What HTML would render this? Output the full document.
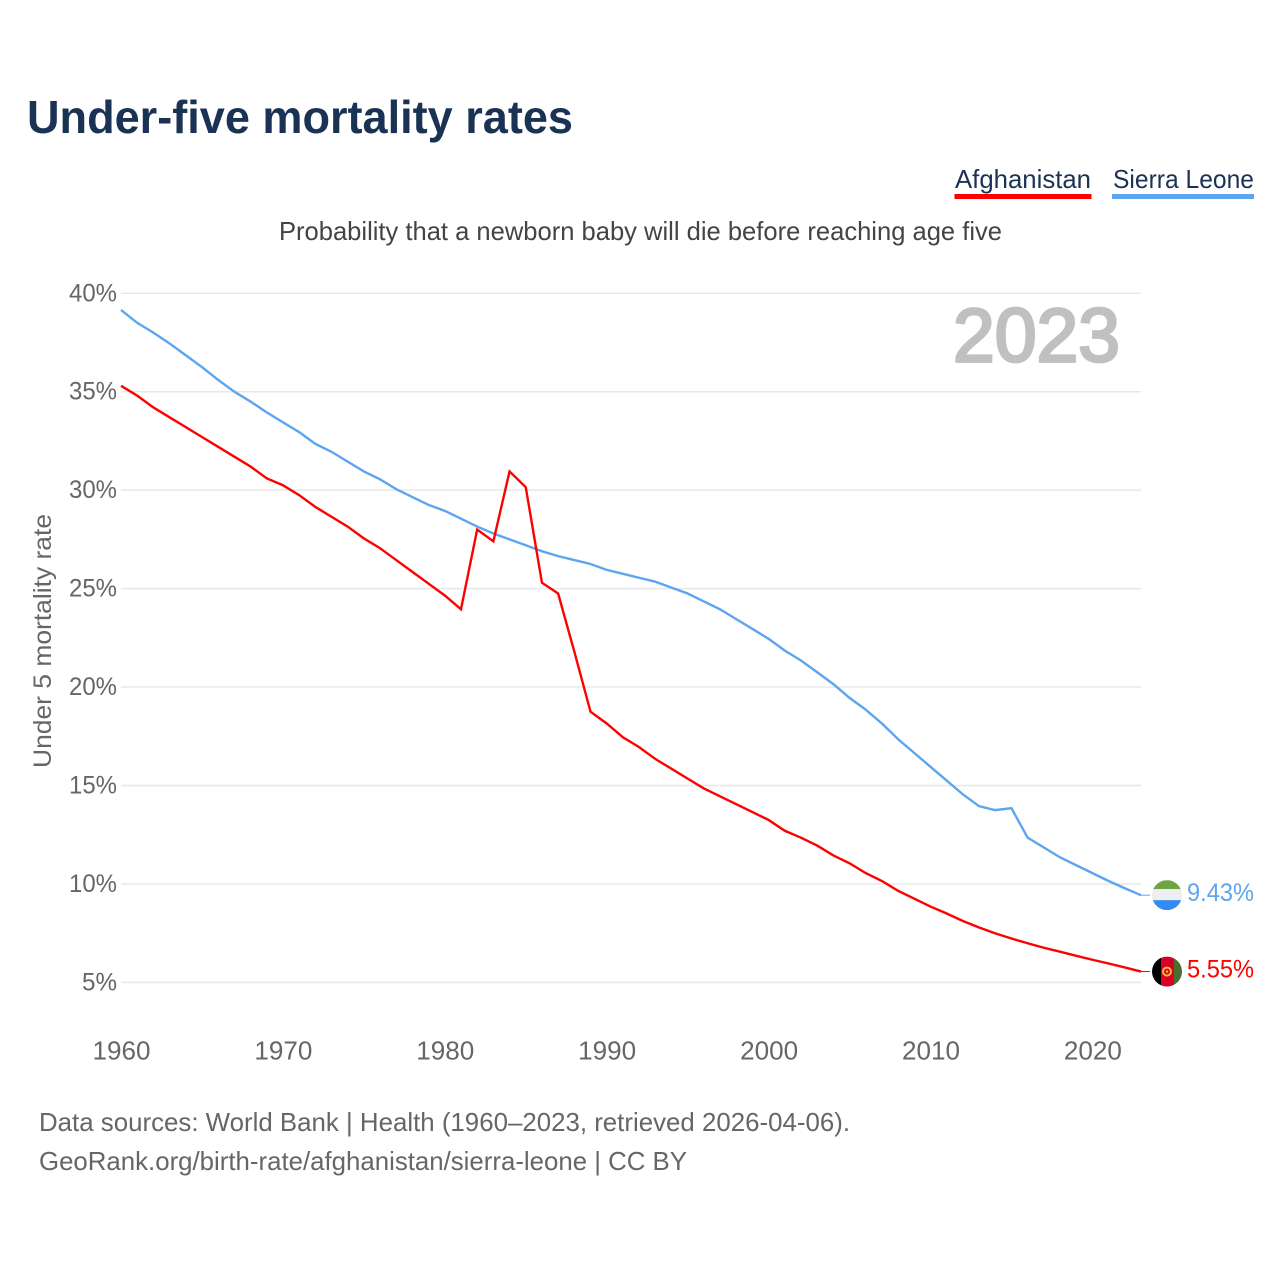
<!DOCTYPE html>
<html lang="en">
<head>
<meta charset="utf-8">
<title>Under-five mortality rates</title>
<style>
html,body{margin:0;padding:0;background:#fff;}
svg{display:block;font-family:"Liberation Sans",sans-serif;}
</style>
</head>
<body>
<svg id="chart" xmlns="http://www.w3.org/2000/svg" width="1280" height="1280" viewBox="0 0 1280 1280">
  <rect x="0" y="0" width="1280" height="1280" fill="#ffffff"/>
  <text x="27" y="133" font-size="46" font-weight="700" fill="#1a3354" textLength="546" lengthAdjust="spacingAndGlyphs">Under-five mortality rates</text>
  <g>
    <text x="955" y="188" font-size="26" fill="#1a3354" textLength="136" lengthAdjust="spacingAndGlyphs">Afghanistan</text>
    <rect x="954.500" y="194" width="137" height="5" fill="#ff0000"/>
  </g>
  <g>
    <text x="1113" y="188" font-size="26" fill="#1a3354" textLength="141" lengthAdjust="spacingAndGlyphs">Sierra Leone</text>
    <rect x="1112" y="194" width="142" height="5" fill="#5da5ef"/>
  </g>
  <text x="279" y="240" font-size="26" fill="#444444" textLength="723" lengthAdjust="spacingAndGlyphs">Probability that a newborn baby will die before reaching age five</text>
  <g id="grid"></g>
  <text x="1120" y="361.500" font-size="76" font-weight="400" fill="#c0c0c0" stroke="#c0c0c0" stroke-width="2.8" text-anchor="end" textLength="167" lengthAdjust="spacingAndGlyphs">2023</text>
  <g id="yticks"></g>
  <g id="xticks"></g>
  <text transform="translate(51,641) rotate(-90)" font-size="25" fill="#666666" text-anchor="middle" textLength="254" lengthAdjust="spacingAndGlyphs">Under 5 mortality rate</text>
  <g id="series"></g>
  <g id="ends"></g>
  <text x="39" y="1131" font-size="26" fill="#666666" textLength="811" lengthAdjust="spacingAndGlyphs">Data sources: World Bank | Health (1960–2023, retrieved 2026-04-06).</text>
  <text x="39" y="1170" font-size="26" fill="#666666" textLength="648" lengthAdjust="spacingAndGlyphs">GeoRank.org/birth-rate/afghanistan/sierra-leone | CC BY</text>
</svg>
<script>
const startYear = 1960;
const yTicks = [5, 10, 15, 20, 25, 30, 35, 40];
const xTicks = [1960, 1970, 1980, 1990, 2000, 2010, 2020];
const afghanistan = [35.3,34.8,34.2,33.7,33.2,32.7,32.2,31.7,31.2,30.6,30.25,29.75,29.15,28.65,28.15,27.55,27.05,26.45,25.85,25.25,24.65,23.95,28.0,27.4,30.95,30.15,25.3,24.75,21.8,18.75,18.15,17.45,16.95,16.35,15.85,15.35,14.85,14.45,14.05,13.65,13.25,12.7,12.35,11.95,11.45,11.05,10.55,10.15,9.65,9.25,8.85,8.5,8.12,7.79,7.49,7.23,6.99,6.76,6.56,6.35,6.15,5.96,5.76,5.55];
const sierraLeone = [39.15,38.5,38.0,37.45,36.85,36.25,35.6,35.0,34.5,33.95,33.45,32.95,32.35,31.95,31.45,30.95,30.55,30.05,29.65,29.25,28.95,28.55,28.15,27.8,27.5,27.2,26.9,26.65,26.45,26.25,25.95,25.75,25.55,25.35,25.05,24.75,24.35,23.95,23.45,22.95,22.45,21.85,21.35,20.75,20.15,19.45,18.85,18.15,17.35,16.65,15.95,15.25,14.55,13.95,13.75,13.85,12.35,11.85,11.35,10.95,10.55,10.15,9.78,9.43];

const NS = 'http://www.w3.org/2000/svg';
const xScale = function (year) { return 121 + (year - 1960) * 16.19; };
const yScale = function (v) { return 982.4 - (v - 5) * 19.69; };
const mk = function (tag, attrs, parent) {
  const el = document.createElementNS(NS, tag);
  Object.keys(attrs).forEach(function (k) { el.setAttribute(k, attrs[k]); });
  parent.appendChild(el);
  return el;
};
const RED = '#ff0000';
const BLUE = '#5da5ef';

yTicks.forEach(function (v) {
  const line = mk('line', {x1: 121, x2: 1141, y1: yScale(v), y2: yScale(v), stroke: '#e8e8e8', 'stroke-width': 1.5}, document.getElementById('grid'));
  
  
  const label = mk('text', {x: 117, y: yScale(v) + 8, 'text-anchor': 'end', 'font-size': 25, fill: '#666666', textLength: v < 10 ? 35 : 48, lengthAdjust: 'spacingAndGlyphs'}, document.getElementById('yticks'));
  
  
  label.textContent = v + '%';
});

xTicks.forEach(function (yr) {
  const label = mk('text', {x: xScale(yr) + 0.5, y: 1059.5, 'text-anchor': 'middle', 'font-size': 25.5, fill: '#666666', textLength: 58, lengthAdjust: 'spacingAndGlyphs'}, document.getElementById('xticks'));
  
  
  label.textContent = yr;
});

const drawSeries = function (values, color, name) {
  const pts = values.map(function (v, i) { return xScale(startYear + i).toFixed(2) + ',' + yScale(v).toFixed(2); });
  const path = mk('polyline', {points: pts.join(' '), fill: 'none', stroke: color, 'stroke-width': 2.4, 'stroke-linejoin': 'miter'}, document.getElementById('series'));
  
  
  const last = yScale(values[values.length - 1]);
  const tail = mk('line', {x1: xScale(startYear + values.length - 1), x2: 1150, y1: last, y2: last, stroke: color, 'stroke-width': 1}, document.getElementById('series'));
  
  
};
drawSeries(sierraLeone, BLUE, 'line-sierra-leone');
drawSeries(afghanistan, RED, 'line-afghanistan');

const ends = document.getElementById('ends');
const slLast = sierraLeone[sierraLeone.length - 1];
const afLast = afghanistan[afghanistan.length - 1];

const clipDefs = mk('defs', {}, ends);
const slClip = mk('clipPath', {id: 'clip-sl'}, clipDefs);
mk('circle', {cx: 1167, cy: yScale(slLast), r: 15}, slClip);
const afClip = mk('clipPath', {id: 'clip-af'}, clipDefs);
mk('circle', {cx: 1167, cy: yScale(afLast), r: 15}, afClip);

const slFlag = mk('g', {'clip-path': 'url(#clip-sl)'}, ends);


const sy = yScale(slLast) - 15;
mk('rect', {x: 1152, y: sy, width: 30, height: 9, fill: '#6da544'}, slFlag);
mk('rect', {x: 1152, y: sy + 9, width: 30, height: 11, fill: '#eeeeee'}, slFlag);
mk('rect', {x: 1152, y: sy + 20, width: 30, height: 10, fill: '#338af3'}, slFlag);

const afFlag = mk('g', {'clip-path': 'url(#clip-af)'}, ends);


const ay = yScale(afLast) - 15;
mk('rect', {x: 1152, y: ay, width: 9, height: 30, fill: '#000000'}, afFlag);
mk('rect', {x: 1161, y: ay, width: 13, height: 30, fill: '#d80027'}, afFlag);
mk('rect', {x: 1174, y: ay, width: 8, height: 30, fill: '#496e2d'}, afFlag);
mk('circle', {cx: 1167, cy: ay + 15, r: 4, fill: 'none', stroke: '#ffb83a', 'stroke-width': 2}, afFlag);
mk('circle', {cx: 1167, cy: ay + 15, r: 1.2, fill: '#ffb83a'}, afFlag);

const slLabel = mk('text', {x: 1254, y: yScale(slLast) + 6, 'text-anchor': 'end', 'font-size': 25, fill: BLUE, textLength: 67, lengthAdjust: 'spacingAndGlyphs'}, ends);


slLabel.textContent = slLast.toFixed(2) + '%';

const afLabel = mk('text', {x: 1254, y: yScale(afLast) + 6, 'text-anchor': 'end', 'font-size': 25, fill: RED, textLength: 67, lengthAdjust: 'spacingAndGlyphs'}, ends);


afLabel.textContent = afLast.toFixed(2) + '%';
</script>
</body>
</html>
